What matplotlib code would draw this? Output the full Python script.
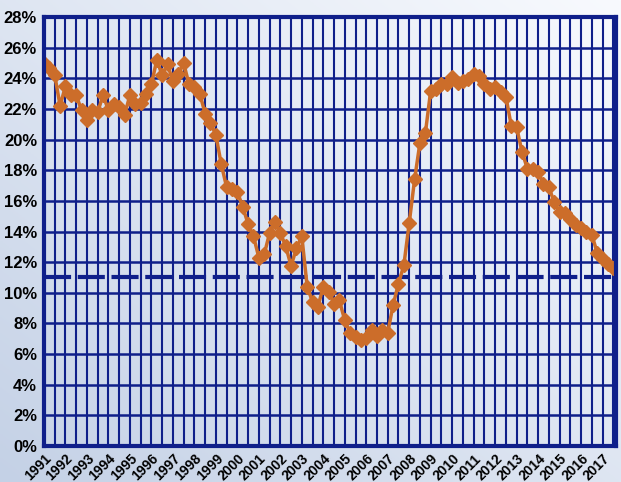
import numpy as np
import matplotlib
matplotlib.use('Agg')
import matplotlib.pyplot as plt

# quarterly values, 1991 Q1 onward (%)
rate = [25.0, 24.7, 24.2, 22.2, 23.5, 22.9, 22.9, 21.9, 21.3, 21.9,
        21.8, 22.9, 21.9, 22.3, 22.1, 21.6, 22.9, 22.3, 22.4, 23.0,
        23.6, 25.2, 24.2, 24.9, 23.8, 24.3, 25.0, 23.6, 23.4, 23.0,
        21.7, 21.1, 20.3, 18.4, 16.9, 16.8, 16.6, 15.6, 14.5, 13.7,
        12.3, 12.5, 13.9, 14.6, 13.9, 13.05, 11.75, 12.9, 13.7, 10.4,
        9.4, 9.1, 10.4, 10.05, 9.3, 9.5, 8.2, 7.4, 7.1, 6.9,
        7.05, 7.6, 7.2, 7.6, 7.4, 9.2, 10.6, 11.8, 14.55, 17.4,
        19.8, 20.4, 23.2, 23.3, 23.6, 23.6, 24.1, 23.7, 23.8, 23.95,
        24.3, 24.15, 23.6, 23.3, 23.4, 23.1, 22.8, 20.9, 20.8, 19.2,
        18.1, 18.1, 17.9, 17.1, 16.9, 15.9, 15.3, 15.2, 14.8, 14.4,
        14.2, 14.0, 13.8, 12.6, 12.2, 11.9, 11.6]
years = [str(y) for y in range(1991, 2018)]
yticks = list(range(0, 29, 2))
ref_level = 11.0

navy = '#0f1f8a'
orange = '#cc6d2a'
plt.rcParams['font.family'] = ['Liberation Sans Narrow', 'Liberation Sans', 'DejaVu Sans']

fig = plt.figure(figsize=(6.21, 4.82), dpi=100)

# background gradient
bg = fig.add_axes([0, 0, 1, 1], zorder=0)
gx, gy = np.meshgrid(np.linspace(0, 1, 200), np.linspace(0, 1, 200))
t = np.clip((gx + (1 - gy)) / 2, 0, 1)
c0 = np.array([196, 209, 230]) / 255
c1 = np.array([248, 250, 254]) / 255
img = c0[None, None, :] * (1 - t[..., None]) + c1[None, None, :] * t[..., None]
bg.imshow(img, aspect='auto', extent=[0, 1, 0, 1], origin='upper')
bg.axis('off')

ax = fig.add_axes([44/621, 36/482, 572/621, 429/482], zorder=1)
ax.set_facecolor('none')

x = np.arange(len(rate))
ax.set_xlim(0, 106.5)
ax.set_ylim(0, 28)

for v in yticks:
    ax.axhline(v, color=navy, lw=1.8, zorder=1)
for g in range(0, 107, 2):
    ax.axvline(g, color=navy, lw=1.5, zorder=1)

ax.axhline(ref_level, color=navy, lw=3, ls=(0, (6.5, 1.6)), zorder=2)

ax.plot(x, rate, color=orange, lw=2.5, marker='D', ms=7, mec=orange, mfc=orange, zorder=3)

ax.set_yticks(yticks)
ax.set_yticklabels([f'{v}%' for v in yticks], fontsize=12, fontweight='bold')
ax.set_xticks(np.arange(0, 4 * len(years), 4))
ax.set_xticklabels(years, rotation=45, ha='right', va='top', fontsize=10,
                   fontweight='bold', rotation_mode='anchor')
ax.tick_params(length=0, pad=5)
ax.tick_params(axis='x', pad=4)

for s in ax.spines.values():
    s.set_color(navy)
    s.set_linewidth(3)
    s.set_zorder(4)

fig.savefig('out.png', dpi=100)
